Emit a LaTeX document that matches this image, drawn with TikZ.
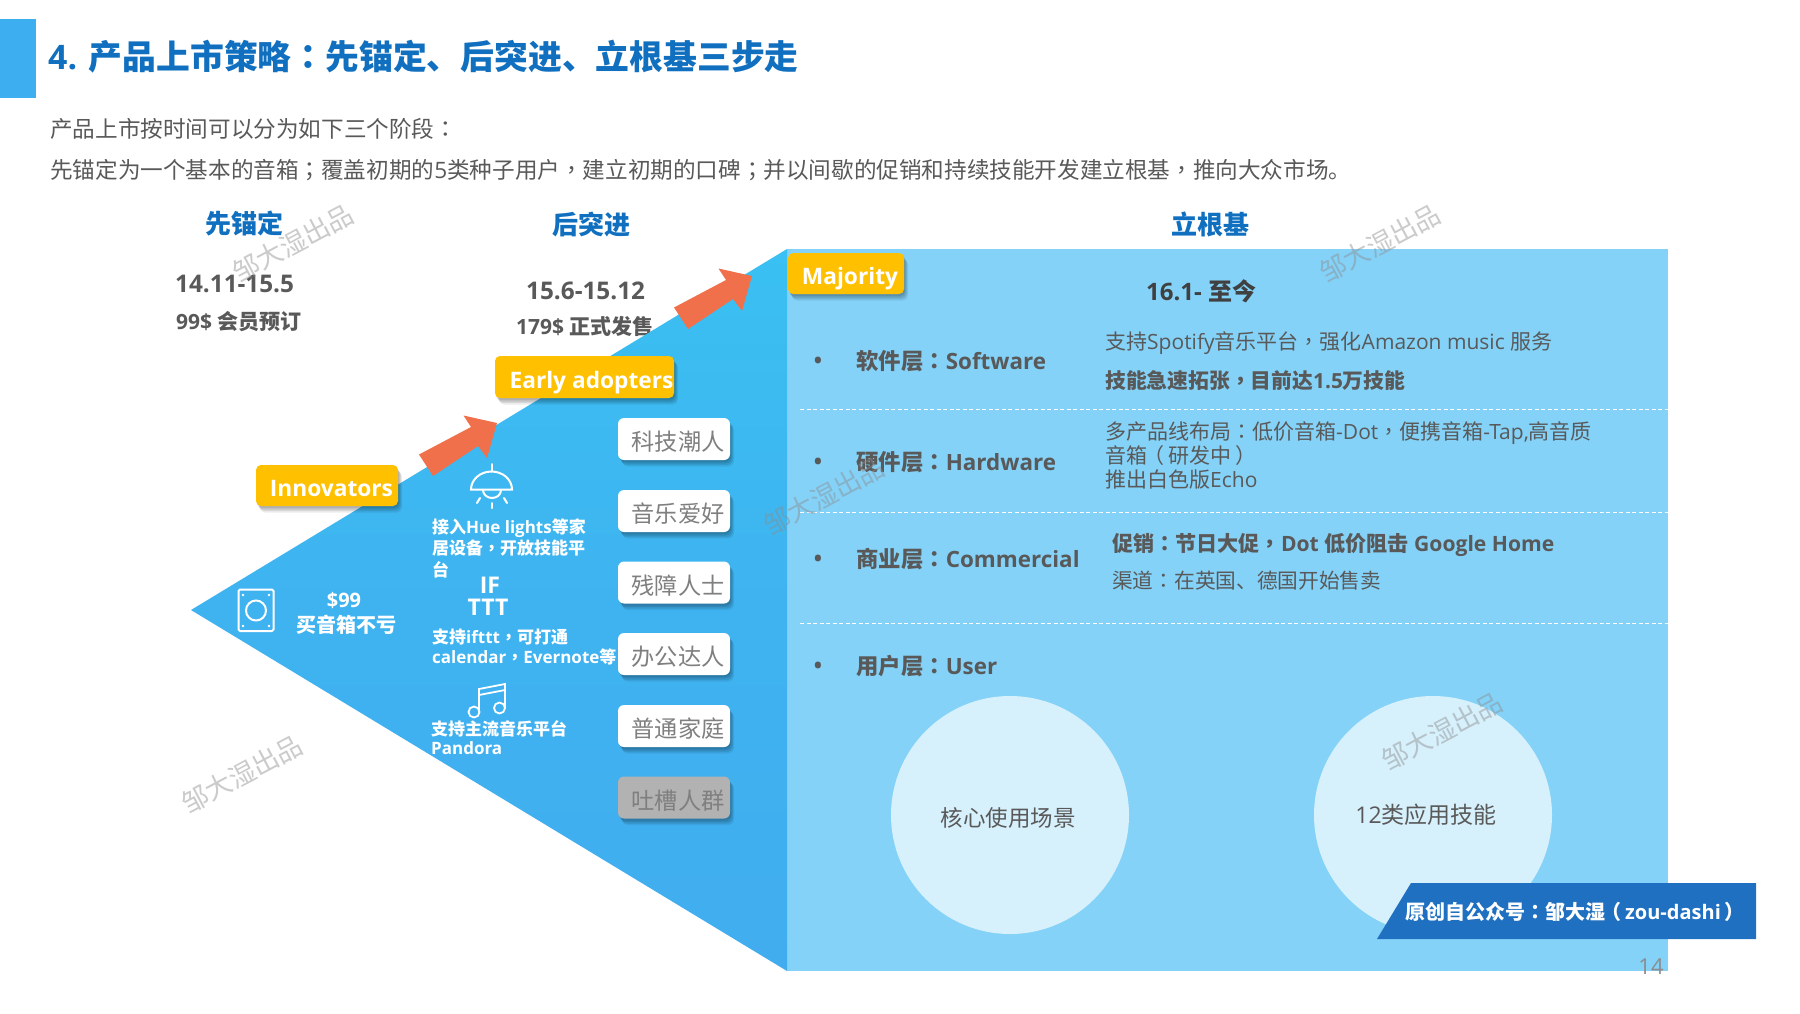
\documentclass[tikz,border=0pt]{standalone}
\usepackage{fontspec}
\setmainfont{Open Sans}
\newfontfamily\cjk{Noto Sans CJK SC}
\newfontfamily\cjkp{Noto Sans CJK TC}
\usetikzlibrary{shadows}
\newcommand\zh[1]{{\cjk #1}}
\newcommand\pu[1]{{\cjkp #1}}
\newcommand\opn{{\cjk\kern-.2em（\kern.2em}}
\newcommand\cls{{\cjk\kern.2em）\kern-.2em}}
\newcommand\fs[1]{\fontsize{#1pt}{#1pt}\selectfont}
\newcommand\low[1]{\raisebox{0pt}[1em][0pt]{#1}}
\definecolor{titleblue}{HTML}{1070BF}
\definecolor{barblue}{HTML}{3DAEF0}
\definecolor{panel}{HTML}{84D2F8}
\definecolor{triA}{HTML}{3AC0F2}
\definecolor{triB}{HTML}{41ADEF}
\definecolor{orangearrow}{HTML}{F0704B}
\definecolor{ylw}{HTML}{FFC000}
\definecolor{bodygrey}{HTML}{595959}
\definecolor{darkgrey}{HTML}{404040}
\definecolor{tagtext}{HTML}{7F7F7F}
\definecolor{circ}{HTML}{D6F0FC}
\definecolor{banner}{HTML}{1F70C0}
\tikzset{
  softshadow/.style={
     general shadow={shadow xshift=1pt,shadow yshift=-2pt,opacity=.09,fill=black},
     general shadow={shadow xshift=2pt,shadow yshift=-3.5pt,opacity=.09,fill=black},
     general shadow={shadow xshift=3pt,shadow yshift=-5pt,opacity=.09,fill=black},
     general shadow={shadow xshift=4pt,shadow yshift=-6.5pt,opacity=.07,fill=black}},
  txt/.style={inner sep=0pt,anchor=west,text=bodygrey},
  ctxt/.style={inner sep=0pt,text=bodygrey},
  wtxt/.style={inner sep=0pt,anchor=west,text=white,font=\bfseries\fs{17}},
  ctitle/.style={inner sep=0pt,text=titleblue,font=\bfseries\fs{26}},
  ylab/.style={inner sep=0pt,rounded corners=5pt,fill=ylw,text=white,font=\bfseries\fs{22.7},softshadow},
  tagbox/.style={inner sep=0pt,rounded corners=6pt,fill=white,text=tagtext,font=\fs{23.2},
     minimum width=112pt,minimum height=42pt,softshadow},
  mark text/.style={inner sep=0pt,rotate=28,text=black!45,opacity=.45,font=\fs{26.5}},
  head/.style={txt,font=\bfseries\fs{22.4}},
  bul/.style={ctxt,font=\bfseries\fs{22}},
  body/.style={txt,font=\fs{21}},
  bodyb/.style={txt,font=\bfseries\fs{20.8}},
  icon/.style={draw=white,line width=2pt,line cap=round},
  dashline/.style={draw=white,line width=.8pt,dash pattern=on 4pt off 2.5pt}
}
\begin{document}
\begin{tikzpicture}[x=1pt,y=-1pt]
\useasboundingbox (0,0) rectangle (1800,1013);
\fill[white] (0,0) rectangle (1800,1013);
% title bar
\fill[barblue] (0,19) rectangle (36,98);
\node[inner sep=0pt,anchor=west,text=titleblue,font=\bfseries\fs{33.8}] (title) at (48,57)
  {4. \zh{产品上市策略}\pu{：}\zh{先锚定、后突进、立根基三步走}};
\node[txt,font=\fs{22.6}] (sub1) at (50,129) {\zh{产品上市按时间可以分为如下三个阶段}\pu{：}};
\node[txt,font=\fs{22.6}] (sub2) at (50,170) {\zh{先锚定为一个基本的音箱}\pu{；}\zh{覆盖初期的}5\zh{类种子用户}\pu{，}\zh{建立初期的口碑}\pu{；}\zh{并以间歇的促销和持续技能开发建立根基}\pu{，}\zh{推向大众市场。}};
% column headers
\node[ctitle] (h1) at (244,224) {\zh{先锚定}};
\node[ctitle] (h2) at (591,225) {\zh{后突进}};
\node[ctitle] (h3) at (1210,224) {\zh{立根基}};
% dates
\node[txt,font=\bfseries\fs{24.3}] (d1) at (175,284) {14.11-15.5};
\node[txt,font=\bfseries\fs{21}] (p1) at (176,322) {99\$ \zh{会员预订}};
\node[txt,font=\bfseries\fs{24.3}] (d2) at (526,291) {15.6-15.12};
\node[txt,font=\bfseries\fs{21}] (p2) at (516,326) {179\$ \zh{正式发售}};
% panel and triangle
\fill[panel] (787,249) rectangle (1668,971);
\shade[top color=triA,bottom color=triB,middle color=triB!70!triA] (191,610) -- (787,249) -- (787,971) -- cycle;
% arrows
\foreach \dx/\dy in {0/0,255/-147}{
  \fill[orangearrow,shift={(\dx,\dy)}] (497,423) -- (463.5,415.5) -- (471,427) -- (419,454.5) -- (433,476) -- (478,446) -- (487,458) -- cycle;
}
% yellow labels
\node[ylab,minimum width=142pt,minimum height=41pt] (innov) at (327,485.5) {\hspace*{9pt}\low{Innovators}};
\node[ylab,minimum width=179pt,minimum height=42pt] (early) at (584.5,377) {\hspace*{14pt}\low{Early adopters}};
\node[ylab,minimum width=116pt,minimum height=41pt] (major) at (846,273.5) {\hspace*{8pt}\low{Majority}};
% user tags
\node[tagbox] (t1) at (674,439) {\hspace*{8pt}\low{\zh{科技潮人}}};
\node[tagbox] (t2) at (674,511) {\hspace*{8pt}\low{\zh{音乐爱好}}};
\node[tagbox] (t3) at (674,582.5) {\hspace*{8pt}\low{\zh{残障人士}}};
\node[tagbox] (t4) at (674,654) {\hspace*{8pt}\low{\zh{办公达人}}};
\node[tagbox] (t5) at (674,726) {\hspace*{8pt}\low{\zh{普通家庭}}};
\node[tagbox,fill=black!30] (t6) at (674,797.5) {\hspace*{8pt}\low{\zh{吐槽人群}}};
% speaker icon
\draw[icon,rounded corners=1.5pt] (238.5,589.5) rectangle (273.5,631);
\draw[icon] (256,610.5) circle (10);
\foreach \px/\py in {243/595,269/595,243/626,269/626}{\fill[white] (\px,\py) circle (1.4);}
\node[ctxt,text=white,font=\bfseries\fs{20}] (t99) at (344,600) {\$99};
\node[ctxt,text=white,font=\bfseries\fs{20}] (tbuy) at (346,625) {\zh{买音箱不亏}};
% lamp icon
\draw[icon] (492,464) -- (492,471);
\draw[icon] (471,489.5) arc (180:360:20.5 and 18) -- cycle;
\draw[icon] (483,490) arc (180:0:9 and 8);
\draw[icon] (492,503) -- (492,508);
\draw[icon] (480,498) -- (477,503);
\draw[icon] (504,498) -- (507,503);
\node[wtxt] (hue1) at (432,528) {\zh{接入}Hue lights\zh{等家}};
\node[wtxt] (hue2) at (432,548) {\zh{居设备}\pu{，}\zh{开放技能平}};
\node[wtxt] (hue3) at (432,570) {\zh{台}};
% IFTTT
\node[ctxt,text=white,font=\bfseries\fs{23}] (if) at (490,585) {IF};
\node[ctxt,text=white,font=\bfseries\fs{23}] (ttt) at (488,607) {TTT};
\node[wtxt] (ift1) at (432,637) {\zh{支持}ifttt\pu{，}\zh{可打通}};
\node[wtxt] (ift2) at (432,657) {calendar\pu{，}Evernote\zh{等}};
% music icon
\draw[icon,line width=1.8pt] (479,712) -- (479,689) -- (505,684) -- (505,708);
\draw[icon,line width=1.8pt] (479,695) -- (505,690);
\draw[icon,line width=1.8pt] (474,712) circle (5.5);
\draw[icon,line width=1.8pt] (499.5,708) circle (5.5);
\node[wtxt] (mus1) at (431,729) {\zh{支持主流音乐平台}};
\node[wtxt] (mus2) at (431,748) {Pandora};
% right panel
\node[txt,text=darkgrey,font=\bfseries\fs{24}] (now) at (1146,291) {16.1- \zh{至今}};
\node[bul] (b1) at (818,363) {•};
\node[bul] (b2) at (818,464) {•};
\node[bul] (b3) at (818,561) {•};
\node[bul] (b4) at (818,668) {•};
\node[head] (sw) at (856,361) {\zh{软件层}\pu{：}Software};
\node[head] (hw) at (856,462) {\zh{硬件层}\pu{：}Hardware};
\node[head] (cm) at (856,559) {\zh{商业层}\pu{：}Commercial};
\node[head] (us) at (856,666) {\zh{用户层}\pu{：}User};
\node[body] (sw1) at (1105,343) {\zh{支持}Spotify\zh{音乐平台}\pu{，}\zh{强化}Amazon music \zh{服务}};
\node[bodyb] (sw2) at (1105,381) {\zh{技能急速拓张}\pu{，}\zh{目前达}1.5\zh{万技能}};
\node[body] (hw1) at (1105,433) {\zh{多产品线布局}\pu{：}\zh{低价音箱}-Dot\pu{，}\zh{便携音箱}-Tap,\zh{高音质}};
\node[body] (hw2) at (1105,456) {\zh{音箱}\opn\zh{研发中}\cls};
\node[body] (hw3) at (1105,480) {\zh{推出白色版}Echo};
\node[bodyb,font=\bfseries\fs{21.1}] (cm1) at (1112,545) {\zh{促销}\pu{：}\zh{节日大促}\pu{，}Dot \zh{低价阻击} Google Home};
\node[txt,font=\fs{20.7}] (cm2) at (1112,581) {\zh{渠道}\pu{：}\zh{在英国、德国开始售卖}};
\draw[dashline] (800,409) -- (1668,409);
\draw[dashline] (800,512) -- (1668,512);
\draw[dashline] (800,623) -- (1668,623);
% circles
\node[circle,fill=circ,minimum size=238pt,inner sep=0pt,text=bodygrey,font=\fs{22.5}] (c1) at (1010,815) {\hspace*{-4pt}\low{\zh{核心使用场景}}};
\node[circle,fill=circ,minimum size=238pt,inner sep=0pt,text=bodygrey,font=\fs{23}] (c2) at (1433,815) {\hspace*{-14pt}12\zh{类应用技能}};
% banner
\fill[banner] (1411,883) -- (1756,883) -- (1756,939) -- (1377,939) -- cycle;
\node[inner sep=0pt,anchor=west,text=white,font=\bfseries\fs{20}] (ban) at (1405,912) {\zh{原创自公众号}\pu{：}\zh{邹大湿}\opn zou-dashi\cls};
\node[ctxt,text=black!45,font=\fs{22}] (page) at (1651,967) {14};
% watermarks
\node[mark text] (w1) at (293,243) {\zh{邹大湿出品}};
\node[mark text] (w2) at (1380,243) {\zh{邹大湿出品}};
\node[mark text] (w3) at (242,774) {\zh{邹大湿出品}};
\node[mark text] (w4) at (824,496) {\zh{邹大湿出品}};
\node[mark text] (w5) at (1442,731) {\zh{邹大湿出品}};
\end{tikzpicture}
\end{document}
